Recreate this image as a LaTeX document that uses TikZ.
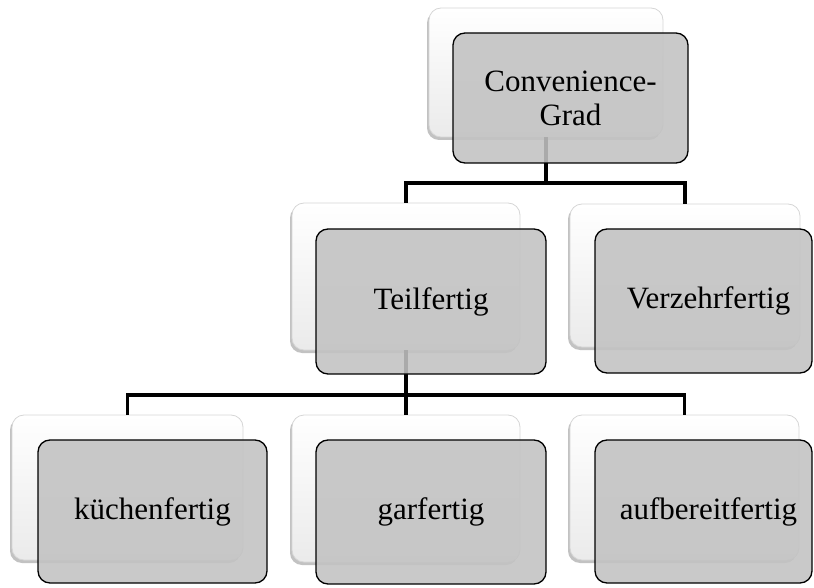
\documentclass[tikz,border=0pt]{standalone}
\usepackage{fontspec}
\setmainfont{Liberation Serif}
\usetikzlibrary{shadows}
\begin{document}
\begin{tikzpicture}[x=1pt,y=-1pt,
  backbox/.style={draw=black!16, line width=0.8pt, top color=white, bottom color=black!8,
    rounded corners=12pt, inner sep=0pt,
    drop shadow={shadow xshift=-2pt, shadow yshift=-3pt, opacity=0.4, fill=black!60}},
  frontbox/.style={draw=black, line width=1.3pt, fill=black!24, fill opacity=0.88, text opacity=1,
    rounded corners=12pt, inner sep=0pt, align=center,
    font=\fontsize{31}{34}\selectfont},
  conn/.style={line width=3.6pt, line join=miter, draw=black}]
\useasboundingbox (0,0) rectangle (814,588);
% back boxes
\node[backbox, minimum width=234pt, minimum height=129pt] (cgB) at (546,72.5) {};
\node[backbox, minimum width=228pt, minimum height=147pt] (tfB) at (406,276.5) {};
\node[backbox, minimum width=230pt, minimum height=143pt] (vzB) at (685,275.5) {};
\node[backbox, minimum width=231pt, minimum height=145pt] (kB) at (127.5,487.5) {};
\node[backbox, minimum width=228pt, minimum height=147pt] (gB) at (406,488.5) {};
\node[backbox, minimum width=229pt, minimum height=145pt] (aB) at (684.5,487.5) {};
% bus levels
\coordinate (bus1) at (0,183);
\coordinate (bus2) at (0,395);
% connectors
\draw[conn] (cgB.south) -- (cgB.south |- bus1) -| (tfB.north);
\draw[conn] (cgB.south |- bus1) -| (vzB.north);
\draw[conn] (tfB.south) -- (tfB.south |- bus2) -| (kB.north);
\draw[conn] (tfB.south |- bus2) -- (gB.north);
\draw[conn] (tfB.south |- bus2) -| (aB.north);
% front boxes
\node[frontbox, minimum width=235pt, minimum height=130pt] (cgF) at (570.5,98) {Convenience-\\Grad};
\node[frontbox, minimum width=230pt, minimum height=145pt] (tfF) at (431,301.5) {Teilfertig};
\node[frontbox, minimum width=217pt, minimum height=144pt] (vzF) at (703.5,301) {\hspace*{10pt}Verzehrfertig};
\node[frontbox, minimum width=229pt, minimum height=143pt] (kF) at (152.5,511.5) {küchenfertig};
\node[frontbox, minimum width=230pt, minimum height=144pt] (gF) at (431,512) {garfertig};
\node[frontbox, minimum width=217pt, minimum height=143pt] (aF) at (703.5,511.5) {\hspace*{10pt}aufbereitfertig};
\end{tikzpicture}
\end{document}
